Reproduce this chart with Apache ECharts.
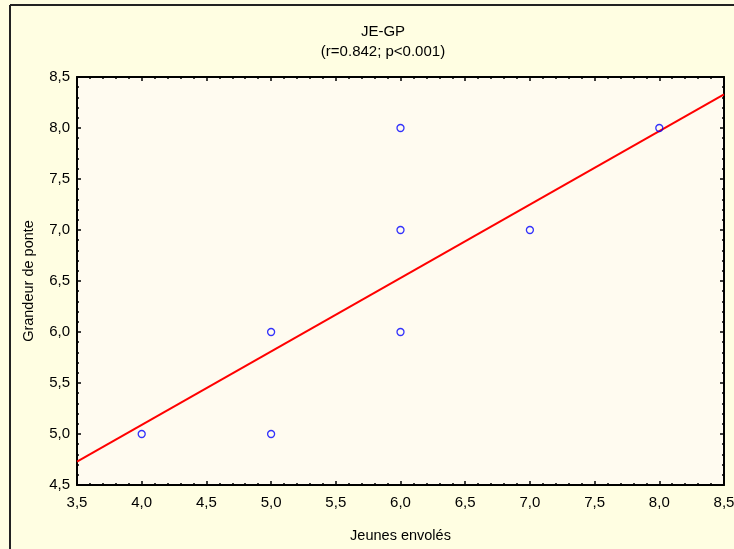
<!DOCTYPE html>
<html>
<head>
<meta charset="utf-8">
<script src="https://cdn.jsdelivr.net/npm/echarts@6/dist/echarts.min.js"></script>
<style>
  html, body { margin: 0; padding: 0; background: #FFFEE2; }
  #chart { width: 734px; height: 549px; }
</style>
</head>
<body>
<div id="chart"></div>
<script>
// Observations: young fledged (x) vs clutch size (y)
const jeunesEnvoles = [4, 5, 5, 6, 6, 6, 7, 8];
const grandeurPonte = [5, 5, 6, 6, 7, 8, 7, 8];
// Fitted regression line, at both ends of the x range
const fitX = [3.5, 8.5];
const fitY = [4.73, 8.33];

const titleText = 'JE-GP';
const subtitleText = '(r=0.842; p<0.001)';
const xName = 'Jeunes envolés';
const yName = 'Grandeur de ponte';

const FONT = '"Liberation Sans", Arial, sans-serif';
const fmt = v => v.toFixed(1).replace('.', ',');

const points = jeunesEnvoles.map((x, i) => [x, grandeurPonte[i]]);
const fitLine = fitX.map((x, i) => [x, fitY[i]]);

const axisCommon = {
  axisLine: { show: true, onZero: false, lineStyle: { color: '#000', width: 2 } },
  axisTick: { show: true, inside: true, length: 4, lineStyle: { color: '#000', width: 1.5 } },
  minorTick: { show: true, splitNumber: 5, length: 2, lineStyle: { color: '#000', width: 1.5 } },
  splitLine: { show: false },
  minorSplitLine: { show: false }
};

const chart = echarts.init(document.getElementById('chart'), null, { renderer: 'canvas' });
chart.setOption({
  backgroundColor: '#FFFEE2',
  animation: false,
  title: [
    { text: titleText, left: 378, top: 19, textAlign: 'center',
      textStyle: { fontFamily: FONT, fontSize: 15, fontWeight: 'normal', color: '#000' } },
    { text: subtitleText, left: 378, top: 39, textAlign: 'center',
      textStyle: { fontFamily: FONT, fontSize: 15, fontWeight: 'normal', color: '#000' } }
  ],
  grid: { left: 77, right: 10, top: 77, bottom: 64, show: true,
          outerBoundsMode: 'none', containLabel: false,
          backgroundColor: '#FFFBF0', borderColor: '#000', borderWidth: 0 },
  xAxis: [
    Object.assign({}, axisCommon, {
      type: 'value', position: 'bottom', min: 3.5, max: 8.5, interval: 0.5,
      name: xName, nameLocation: 'middle', nameGap: 43,
      nameTextStyle: { fontFamily: FONT, fontSize: 14.5, color: '#000' },
      axisLabel: { formatter: fmt, margin: 10, fontFamily: FONT, fontSize: 15, color: '#000' }
    }),
    Object.assign({}, axisCommon, {
      type: 'value', position: 'top', min: 3.5, max: 8.5, interval: 0.5,
      axisLabel: { show: false }
    })
  ],
  yAxis: [
    Object.assign({}, axisCommon, {
      type: 'value', position: 'left', min: 4.5, max: 8.5, interval: 0.5,
      name: yName, nameLocation: 'middle', nameGap: 41,
      nameTextStyle: { fontFamily: FONT, fontSize: 14.5, color: '#000' },
      axisLabel: { formatter: fmt, margin: 7, fontFamily: FONT, fontSize: 15, color: '#000' }
    }),
    Object.assign({}, axisCommon, {
      type: 'value', position: 'right', min: 4.5, max: 8.5, interval: 0.5,
      axisLabel: { show: false }
    })
  ],
  graphic: [
    { type: 'line', shape: { x1: 10, y1: 5, x2: 734, y2: 5 },
      style: { stroke: '#222', lineWidth: 2 }, silent: true },
    { type: 'line', shape: { x1: 10, y1: 5, x2: 10, y2: 549 },
      style: { stroke: '#222', lineWidth: 2 }, silent: true }
  ],
  series: [
    {
      type: 'line', data: fitLine, xAxisIndex: 0, yAxisIndex: 0,
      showSymbol: false, symbol: 'none',
      lineStyle: { color: '#FF0000', width: 2 }, z: 2
    },
    {
      type: 'scatter', data: points, xAxisIndex: 0, yAxisIndex: 0,
      symbol: 'circle', symbolSize: 7,
      itemStyle: { color: 'rgba(0,0,0,0)', borderColor: '#0000FF', borderWidth: 1.3 }, z: 3
    }
  ]
});
</script>
</body>
</html>
